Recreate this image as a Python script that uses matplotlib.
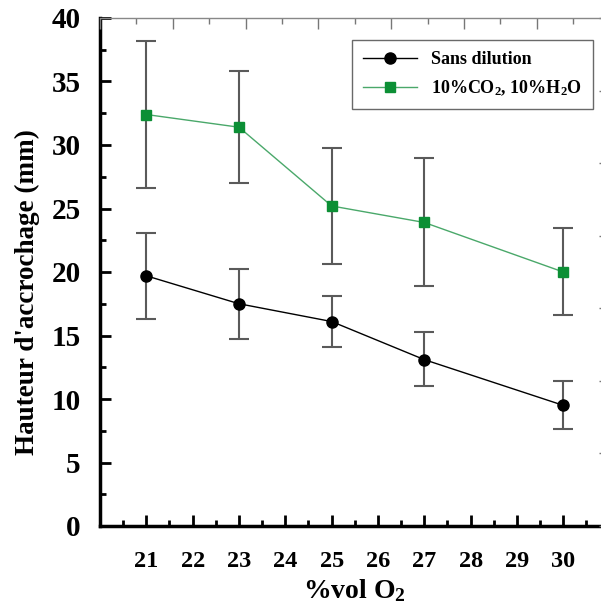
import numpy as np
import matplotlib
matplotlib.use('Agg')
import matplotlib.pyplot as plt
from matplotlib.ticker import MultipleLocator

plt.rcParams['font.family'] = ['Liberation Serif', 'DejaVu Serif']
plt.rcParams['font.weight'] = 'bold'
plt.rcParams['mathtext.fontset'] = 'custom'
plt.rcParams['mathtext.rm'] = 'Liberation Serif:bold'
plt.rcParams['mathtext.it'] = 'Liberation Serif:bold'
plt.rcParams['mathtext.bf'] = 'Liberation Serif:bold'

# data
o2 = [21, 23, 25, 27, 30]
sans_dil = [19.7, 17.5, 16.1, 13.1, 9.5]
sans_dil_hi = [23.1, 20.2, 18.1, 15.3, 11.4]
sans_dil_lo = [16.3, 14.7, 14.1, 11.0, 7.6]
dilue = [32.4, 31.4, 25.2, 23.9, 20.0]
dilue_hi = [38.2, 35.8, 29.8, 29.0, 23.5]
dilue_lo = [26.6, 27.0, 20.6, 18.9, 16.6]

labels = ['Sans dilution', r'10%CO$_\mathrm{2}$, 10%H$_\mathrm{2}$O']
xticks = [21, 22, 23, 24, 25, 26, 27, 28, 29, 30]

fig = plt.figure(figsize=(6.01, 6.10), dpi=100)
rect = [100/601., 84/610., 509.6/601., 508/610.]
ax = fig.add_axes(rect)

err_kw = dict(ecolor='#5a5a5a', elinewidth=1.5, capsize=7.5, capthick=1.5, zorder=2)

y = np.array(sans_dil)
yerr = [y - np.array(sans_dil_lo), np.array(sans_dil_hi) - y]
ax.errorbar(o2, y, yerr=yerr, fmt='none', **err_kw)
ax.plot(o2, y, color='black', lw=1.0, marker='o', ms=8, mfc='black', mec='black',
        label=labels[0], zorder=3)

y = np.array(dilue)
yerr = [y - np.array(dilue_lo), np.array(dilue_hi) - y]
ax.errorbar(o2, y, yerr=yerr, fmt='none', **err_kw)
ax.plot(o2, y, color='#4aa86a', lw=1.0, marker='s', ms=7.5, mfc='#0c8f35', mec='#0c8f35',
        label=labels[1], zorder=3)

ax.set_xlim(20, 31)
ax.set_ylim(0, 40)
ax.set_xticks(xticks)
ax.xaxis.set_minor_locator(MultipleLocator(0.5))
ax.yaxis.set_major_locator(MultipleLocator(5))
ax.yaxis.set_minor_locator(MultipleLocator(2.5))
ax.tick_params(axis='both', which='major', direction='in', length=8, width=2, color='black')
ax.tick_params(axis='both', which='minor', direction='in', length=4, width=2, color='black')
ax.tick_params(axis='x', labelsize=17.5, pad=18)
ax.tick_params(axis='y', labelsize=21, pad=14)
for s in ['left', 'bottom']:
    ax.spines[s].set_linewidth(2.5)
for s in ['top', 'right']:
    ax.spines[s].set_visible(False)

ax.set_xlabel(r'%vol O$_\mathrm{2}$', fontsize=20, fontweight='bold', labelpad=4)
ax.set_ylabel("Hauteur d'accrochage (mm)", fontsize=19.5, fontweight='bold')
ax.yaxis.set_label_coords(-0.118, 0.46)

# thin grey top/right frame with its own ticks
ax2 = fig.add_axes(rect, facecolor='none')
ax2.set_xlim(0, 7)
ax2.set_ylim(0, 7)
ax2.xaxis.set_major_locator(MultipleLocator(1))
ax2.xaxis.set_minor_locator(MultipleLocator(0.5))
ax2.yaxis.set_major_locator(MultipleLocator(1))
ax2.yaxis.set_minor_locator(MultipleLocator(0.5))
ax2.tick_params(which='both', direction='in', color='#777777', width=1,
                top=True, right=True, bottom=False, left=False,
                labeltop=False, labelright=False, labelbottom=False, labelleft=False)
ax2.tick_params(which='major', length=8)
ax2.tick_params(which='minor', length=4)
ax2.spines['left'].set_visible(False)
ax2.spines['bottom'].set_visible(False)
ax2.spines['top'].set_color('#888888')
ax2.spines['right'].set_color('#888888')
ax2.spines['top'].set_linewidth(1)

leg = ax.legend(loc='upper right', bbox_to_anchor=(593/601., 1 - 40/610.),
                bbox_transform=fig.transFigure, frameon=True, fancybox=False,
                fontsize=13, handlelength=3.0, borderpad=0.6, labelspacing=0.6,
                handletextpad=0.8, borderaxespad=0)
leg.get_frame().set_edgecolor('#444444')
leg.get_frame().set_linewidth(1.0)
for t in leg.get_texts():
    t.set_fontweight('bold')

fig.savefig('out.png', dpi=100)
